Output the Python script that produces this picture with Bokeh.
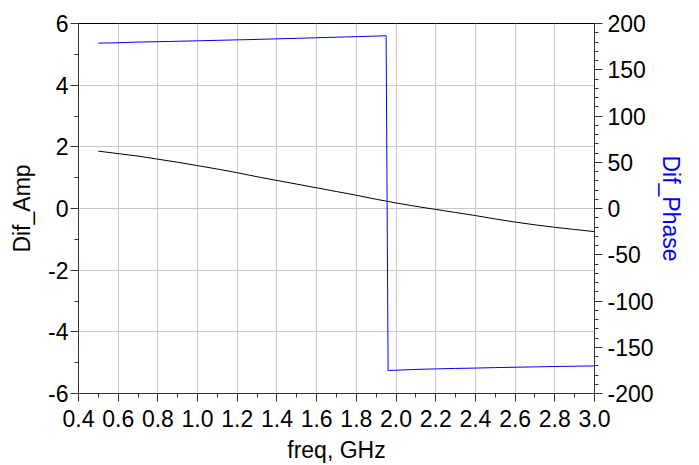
from bokeh.plotting import figure
from bokeh.models import Range1d, LinearAxis, SingleIntervalTicker, NumeralTickFormatter
from bokeh.embed import file_html
from bokeh.resources import INLINE

freq_amp = [0.5, 0.6, 0.7, 0.8, 0.9, 1.0, 1.1, 1.2, 1.3, 1.4, 1.5, 1.6, 1.7, 1.8,
            1.9, 2.0, 2.1, 2.2, 2.3, 2.4, 2.5, 2.6, 2.7, 2.8, 2.9, 3.0]
dif_amp = [1.86, 1.78, 1.70, 1.60, 1.50, 1.39, 1.28, 1.16, 1.03, 0.91, 0.79, 0.67,
           0.55, 0.43, 0.30, 0.18, 0.07, -0.03, -0.13, -0.23, -0.34, -0.44, -0.53,
           -0.61, -0.68, -0.75]

freq_phase = [0.5, 0.6, 0.7, 0.8, 0.9, 1.0, 1.1, 1.2, 1.3, 1.4, 1.5, 1.6, 1.7, 1.8,
              1.9, 1.95, 1.96, 2.0, 2.1, 2.2, 2.3, 2.4, 2.5, 2.6, 2.7, 2.8, 2.9, 3.0]
dif_phase = [178.8, 179.2, 179.9, 180.3, 180.8, 181.3, 181.8, 182.3, 182.8, 183.4,
             184.0, 184.6, 185.2, 185.8, 186.4, 186.8, -175.1, -174.8, -174.0,
             -173.4, -172.9, -172.5, -172.0, -171.6, -171.2, -170.8, -170.5, -170.2]

FONT = "Liberation Sans"
FS = "23px"

p = figure(frame_width=516, frame_height=370, output_backend="svg", toolbar_location=None,
           x_range=Range1d(0.4, 3.0), y_range=Range1d(-6, 6),
           min_border_left=78, min_border_top=23, min_border_right=105, min_border_bottom=72)
p.extra_y_ranges = {"phase": Range1d(-200, 200)}

p.outline_line_color = "black"
p.outline_line_width = 1
p.background_fill_color = "white"
p.border_fill_color = "white"

p.xaxis.ticker = SingleIntervalTicker(interval=0.2, num_minor_ticks=2)
p.xaxis.formatter = NumeralTickFormatter(format="0.0")
p.yaxis.ticker = SingleIntervalTicker(interval=2, num_minor_ticks=2)
p.yaxis.formatter = NumeralTickFormatter(format="0")
p.xaxis.axis_label = "freq, GHz"
p.yaxis.axis_label = "Dif_Amp"

raxis = LinearAxis(y_range_name="phase", axis_label="Dif_Phase",
                   ticker=SingleIntervalTicker(interval=50, num_minor_ticks=5),
                   formatter=NumeralTickFormatter(format="0"))
p.add_layout(raxis, "right")

for ax in [p.xaxis[0], p.yaxis[0], raxis]:
    ax.major_label_text_font = FONT
    ax.major_label_text_font_size = FS
    ax.major_label_text_color = "black"
    ax.axis_label_text_font = FONT
    ax.axis_label_text_font_size = FS
    ax.axis_label_text_font_style = "normal"
    ax.axis_line_color = "#333333"
    ax.major_tick_line_color = "#333333"
    ax.minor_tick_line_color = "#333333"
    ax.major_tick_in = 0
    ax.major_tick_out = 8
    ax.minor_tick_in = 0
    ax.minor_tick_out = 4
    ax.major_label_standoff = 2

p.xaxis.major_label_standoff = 8
p.xaxis.axis_label_standoff = 7
p.yaxis.axis_label_standoff = 10
raxis.major_label_standoff = 5
raxis.axis_label_standoff = 1
p.xaxis.axis_label_text_color = "black"
p.yaxis.axis_label_text_color = "black"
raxis.axis_label_text_color = "#0000ff"

p.grid.grid_line_color = "#c8c8c8"
p.grid.grid_line_width = 1

p.line(freq_amp, dif_amp, line_color="black", line_width=1)
p.line(freq_phase, dif_phase, line_color="#0000ff", line_width=1, y_range_name="phase")

open("out.html", "w").write(file_html(p, INLINE))
